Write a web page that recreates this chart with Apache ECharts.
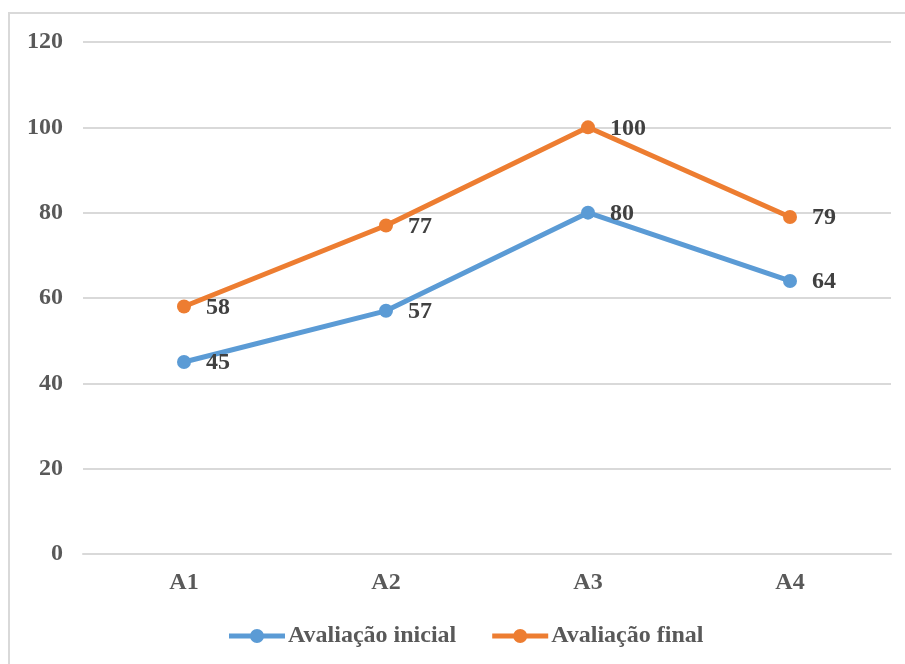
<!DOCTYPE html>
<html>
<head>
<meta charset="utf-8">
<script src="https://cdn.jsdelivr.net/npm/echarts@6/dist/echarts.min.js"></script>
<style>
  html, body { margin: 0; padding: 0; background: #fff; }
  #frame { position: absolute; left: 8px; top: 12px; width: 920px; height: 680px; border: 2px solid #d9d9d9; box-sizing: border-box; }
  #chart { position: absolute; left: 0; top: 0; width: 905px; height: 664px; }
</style>
</head>
<body>
<div id="frame"></div>
<div id="chart"></div>
<script>
const categories = ['A1', 'A2', 'A3', 'A4'];
const inicial = [45, 57, 80, 64];
const final = [58, 77, 100, 79];
const yTicks = { min: 0, max: 120, interval: 20 };

const font = '"Liberation Serif", "Times New Roman", serif';
// Legend marker: a thick line segment with a dot in the middle
const lineDotIcon = 'path://M0,5L21.5,5L21.5,10L0,10Z M34.5,5L56,5L56,10L34.5,10Z M21,7.5A7,7 0 1,1 35,7.5A7,7 0 1,1 21,7.5Z';

const chart = echarts.init(document.getElementById('chart'));

function lineSeries(name, data, color) {
  return {
    name, type: 'line', data,
    symbol: 'circle', symbolSize: 14,
    lineStyle: { width: 5, color },
    itemStyle: { color },
    label: {
      show: true, position: 'right', distance: 15, offset: [0, 1],
      fontFamily: font, fontWeight: 'bold', fontSize: 24, color: '#404040'
    }
  };
}

chart.setOption({
  animation: false,
  textStyle: { fontFamily: font },
  grid: { left: 83, right: 14, top: 42, bottom: 110 },
  xAxis: {
    type: 'category', data: categories,
    axisLine: { show: true, lineStyle: { color: '#d9d9d9', width: 2 } },
    axisTick: { show: false },
    axisLabel: { margin: 17, fontFamily: font, fontWeight: 'bold', fontSize: 24, color: '#595959' }
  },
  yAxis: {
    type: 'value', min: yTicks.min, max: yTicks.max, interval: yTicks.interval,
    axisLine: { show: false }, axisTick: { show: false },
    splitLine: { lineStyle: { color: '#d9d9d9', width: 2 } },
    axisLabel: { margin: 20, fontFamily: font, fontWeight: 'bold', fontSize: 24, color: '#595959' }
  },
  legend: {
    bottom: 16, left: 229, padding: 0,
    icon: lineDotIcon,
    itemWidth: 56, itemHeight: 14, itemGap: 36,
    textStyle: { fontFamily: font, fontWeight: 'bold', fontSize: 24, color: '#595959', padding: [0, 0, 0, -2] },
    data: ['Avaliação inicial', 'Avaliação final']
  },
  series: [
    lineSeries('Avaliação inicial', inicial, '#5b9bd5'),
    lineSeries('Avaliação final', final, '#ed7d31')
  ]
});
</script>
</body>
</html>
